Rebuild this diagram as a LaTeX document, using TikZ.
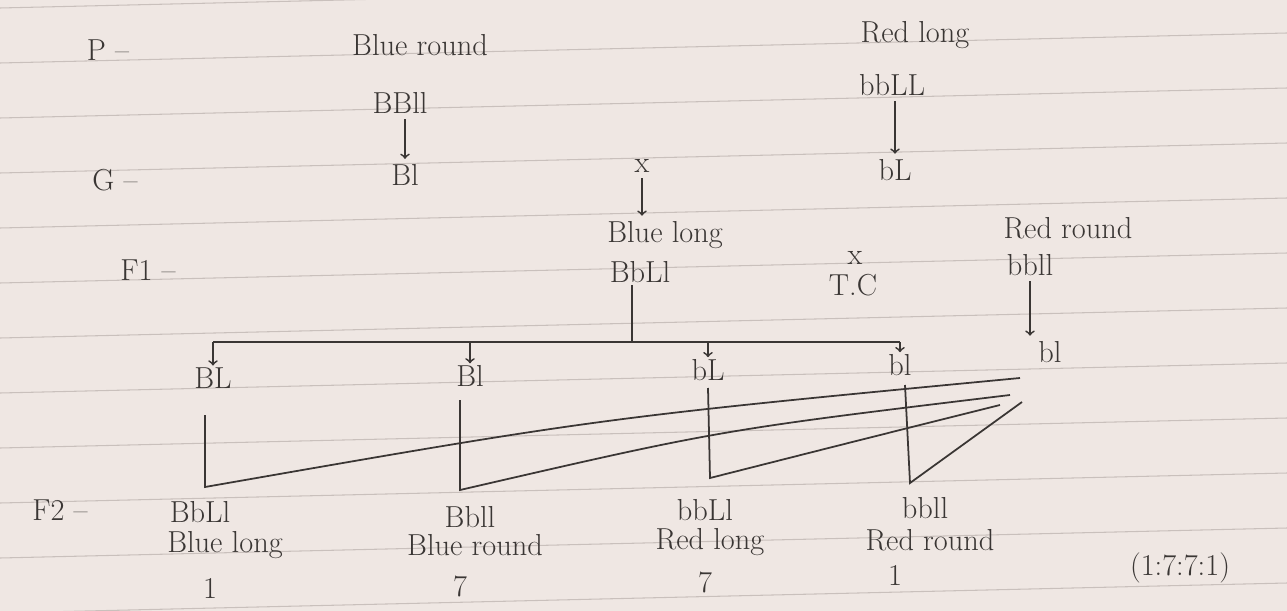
\documentclass[tikz,border=0pt]{standalone}
\usepackage{tikz}
\usetikzlibrary{positioning}
\definecolor{inkgray}{HTML}{3A3634}
\definecolor{paper}{HTML}{EFE7E3}
\definecolor{rule}{HTML}{C9C0BC}

\begin{document}
\begin{tikzpicture}[x=0.02cm,y=-0.02cm,
  ink/.style={draw=inkgray,line width=1pt},
  txt/.style={text=inkgray,font=\LARGE,inner sep=1pt},
  dn/.style={ink,->,shorten >=2pt,shorten <=2pt}]
  % paper
  \fill[paper] (0,0) rectangle (1287,611);
  \useasboundingbox (0,0) rectangle (1287,611);
  \foreach \k in {0,...,11}
    \draw[rule,line width=0.6pt] (0,8+55*\k) -- (1287,-22+55*\k);

  % generation labels
  \node[txt] (p)  at (108,50)  {P --};
  \node[txt] (g)  at (115,180) {G --};
  \node[txt] (f1) at (148,270) {F1 --};
  \node[txt] (f2) at (60,510)  {F2 --};

  % parents
  \node[txt] (pblue) at (420,45)  {Blue round};
  \node[txt] (BBll)  at (400,103) {BBll};
  \node[txt] (Bl)    at (405,175) {Bl};
  \node[txt] (pred)  at (915,35)  {Red long};
  \node[txt] (bbLL)  at (892,85)  {bbLL};
  \node[txt] (bL)    at (895,170) {bL};
  \draw[dn] (Bl.north |- BBll.south) -- (Bl.north);
  \draw[dn] (bL.north |- bbLL.south) -- (bL.north);

  % F1 and test cross
  \node[txt] (cross1) at (642,166) {x};
  \node[txt] (f1ph)   at (665,235) {Blue long};
  \node[txt] (BbLl)   at (640,272) {BbLl};
  \draw[dn] (cross1.south) -- (cross1.south |- f1ph.north);
  \node[txt] (cross2) at (855,258) {x};
  \node[txt] (tc)     at (853,285) {T.C};
  \node[txt] (trph)   at (1068,228) {Red round};
  \node[txt] (bbll)   at (1030,265) {bbll};
  \node[txt] (blt)    at (1050,352) {bl};
  \draw[dn] (bbll.south) -- (bbll.south |- blt.north);

  % gametes of F1
  \node[txt] (gBL) at (213,378) {BL};
  \node[txt] (gBl) at (470,376) {Bl};
  \node[txt] (gbL) at (708,370) {bL};
  \node[txt] (gbl) at (900,365) {bl};
  \coordinate (hub) at (632,342);
  \draw[ink] (BbLl.south -| hub) -- (hub);
  \draw[ink] (gBL.north |- hub) -- (gbl.north |- hub);
  \foreach \gm in {gBL,gBl,gbL,gbl}
    \draw[ink,->] (\gm.north |- hub) -- (\gm.north);

  % offspring
  \node[txt] (o1)  at (200,512) {BbLl};
  \node[txt] (ph1) at (225,545) {Blue long};
  \node[txt] (n1)  at (210,588) {1};
  \node[txt] (o2)  at (470,517) {Bbll};
  \node[txt] (ph2) at (475,545) {Blue round};
  \node[txt] (n2)  at (460,586) {7};
  \node[txt] (o3)  at (705,510) {bbLl};
  \node[txt] (ph3) at (710,542) {Red long};
  \node[txt] (n3)  at (705,582) {7};
  \node[txt] (o4)  at (925,508) {bbll};
  \node[txt] (ph4) at (930,540) {Red round};
  \node[txt] (n4)  at (895,575) {1};
  \node[txt] (ratio) at (1180,568) {(1:7:7:1)};

  % joining lines to bl of the test cross parent
  \coordinate (j1) at (1020,378);
  \coordinate (j2) at (1010,395);
  \coordinate (j3) at (1000,405);
  \coordinate (j4) at (1022,402);
  \coordinate (c1) at (205,487);
  \coordinate (c2) at (460,490);
  \coordinate (c3) at (710,478);
  \coordinate (c4) at (910,483);
  \draw[ink] (205,415) -- (c1) .. controls (600,418) .. (j1);
  \draw[ink] (460,400) -- (c2) .. controls (720,430) .. (j2);
  \draw[ink] (708,388) -- (c3) .. controls (860,440) .. (j3);
  \draw[ink] (905,385) -- (c4) -- (j4);
\end{tikzpicture}
\end{document}
